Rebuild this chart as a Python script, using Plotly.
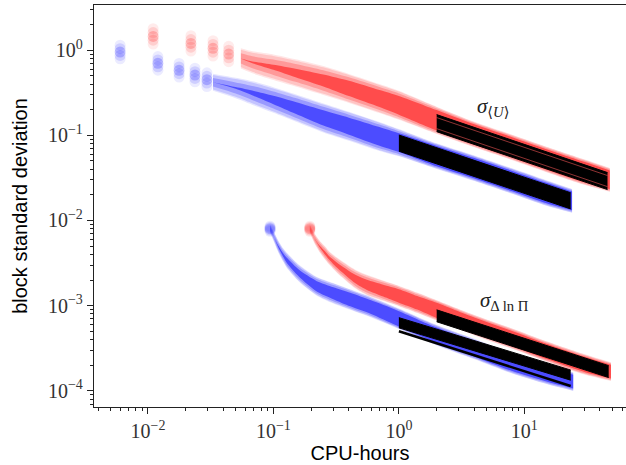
import numpy as np
import plotly.graph_objects as go

# ---------------- data ----------------
# sigma_<U>, blue runs: sparse early columns, then dense cloud
bu_col_x = [0.006, 0.012, 0.0177, 0.0237, 0.0295]
bu_col_y = [0.95, 0.70, 0.58, 0.51, 0.45]
bu_x = [0.033, 0.05, 0.07, 0.1, 0.15, 0.25, 0.4, 0.7, 1.0, 2.0, 4.0, 8.0, 15.0, 24.0]
bu_y = [0.42, 0.36, 0.31, 0.26, 0.21, 0.16, 0.128, 0.097, 0.082, 0.057, 0.041, 0.029, 0.021, 0.017]
bu_halo = [0.10, 0.12, 0.14, 0.15, 0.16, 0.17, 0.17, 0.17, 0.16, 0.15, 0.15, 0.15, 0.15, 0.14]
bu_core = [0.0, 0.01, 0.03, 0.05, 0.07, 0.09, 0.10, 0.11, 0.11, 0.12, 0.12, 0.12, 0.12, 0.11]

# sigma_<U>, red runs
ru_col_x = [0.011, 0.022, 0.033, 0.044]
ru_col_y = [1.45, 1.2, 1.05, 0.9]
ru_x = [0.055, 0.068, 0.1, 0.15, 0.25, 0.4, 0.7, 1.0, 2.0, 4.0, 8.0, 15.0, 30.0, 48.0]
ru_y = [0.80, 0.72, 0.63, 0.54, 0.44, 0.355, 0.27, 0.225, 0.15, 0.102, 0.072, 0.052, 0.037, 0.030]
ru_halo = [0.12, 0.13, 0.15, 0.16, 0.17, 0.17, 0.17, 0.17, 0.16, 0.15, 0.15, 0.15, 0.15, 0.14]
ru_core = [0.0, 0.01, 0.03, 0.05, 0.07, 0.09, 0.10, 0.11, 0.12, 0.12, 0.12, 0.12, 0.12, 0.11]

# sigma_{Delta ln Pi}, blue runs
bp_col_x = [0.094]
bp_col_y = [0.0080]
bp_x = [0.094, 0.102, 0.109, 0.12, 0.128, 0.16, 0.22, 0.3, 0.41, 0.6, 0.96, 2.0, 4.0, 8.0, 15.0, 24.5]
bp_y = [0.0080, 0.0062, 0.0050, 0.0039, 0.0034, 0.0024, 0.0017, 0.0014, 0.00118, 0.00096, 0.00072,
        0.00045, 0.00031, 0.00021, 0.000158, 0.000128]
bp_halo = [0.05, 0.06, 0.07, 0.08, 0.09, 0.10, 0.11, 0.12, 0.12, 0.12, 0.12, 0.12, 0.12, 0.12, 0.12, 0.11]
bp_core = [0.0, 0.0, 0.01, 0.02, 0.03, 0.04, 0.06, 0.07, 0.08, 0.08, 0.09, 0.09, 0.09, 0.09, 0.09, 0.08]

# sigma_{Delta ln Pi}, red runs
rp_col_x = [0.195]
rp_col_y = [0.0080]
rp_x = [0.195, 0.212, 0.235, 0.26, 0.28, 0.32, 0.45, 0.556, 0.75, 1.0, 1.4, 2.0, 4.0, 8.0, 15.0, 30.0, 49.0]
rp_y = [0.0080, 0.0062, 0.0049, 0.0041, 0.0036, 0.0030, 0.00205, 0.00175, 0.0015, 0.0013, 0.00108,
        0.00088, 0.00059, 0.00041, 0.00029, 0.000205, 0.000168]
rp_halo = [0.05, 0.06, 0.07, 0.08, 0.08, 0.09, 0.11, 0.12, 0.12, 0.12, 0.12, 0.12, 0.12, 0.12, 0.12, 0.12, 0.11]
rp_core = [0.0, 0.0, 0.01, 0.02, 0.02, 0.03, 0.05, 0.06, 0.07, 0.08, 0.08, 0.09, 0.09, 0.09, 0.09, 0.09, 0.08]

# power-law fits (end points) and their half widths in decades
fit_bu_x = [1.0, 23.4];  fit_bu_y = [0.081, 0.017];      fit_bu_w = 0.095
fit_ru_x = [2.0, 46.0];  fit_ru_y = [0.139, 0.029];      fit_ru_w = 0.10
fit_bp_x = [1.0, 23.4];  fit_bp_y = [0.00063, 0.000153]; fit_bp_w = 0.06
fit_bp_line_y = [0.000500, 0.000114]
fit_rp_x = [2.0, 47.0];  fit_rp_y = [0.00076, 0.000168]; fit_rp_w = 0.07

x_tickvals = [0.01, 0.1, 1, 10]
x_ticktext = ["10<sup>−2</sup>", "10<sup>−1</sup>", "10<sup>0</sup>", "10<sup>1</sup>"]
y_tickvals = [1, 0.1, 0.01, 0.001, 0.0001]
y_ticktext = ["10<sup>0</sup>", "10<sup>−1</sup>", "10<sup>−2</sup>", "10<sup>−3</sup>", "10<sup>−4</sup>"]

RED = (255, 0, 0)
BLUE = (0, 0, 255)


def rgba(c, a):
    return f"rgba({c[0]},{c[1]},{c[2]},{a})"


fig = go.Figure()


def band(x, y, w, color, alpha):
    y = np.asarray(y, float)
    w = np.asarray(w, float)
    up = y * 10 ** w
    lo = y / 10 ** w
    fig.add_trace(go.Scatter(x=x, y=up, mode="lines", line=dict(width=0, shape="spline", smoothing=0.7),
                             hoverinfo="skip", showlegend=False))
    fig.add_trace(go.Scatter(x=x, y=lo, mode="lines", line=dict(width=0, shape="spline", smoothing=0.7),
                             fill="tonexty", fillcolor=rgba(color, alpha),
                             hoverinfo="skip", showlegend=False))


def columns(cx, cy, color, spread):
    cy = np.asarray(cy, float)
    offs = [(-spread, 0.08), (-spread / 2, 0.12), (spread / 2, 0.12), (spread, 0.08), (0, 0.2)]
    for off, a in offs:
        fig.add_trace(go.Scatter(x=cx, y=cy * 10 ** off, mode="markers",
                                 marker=dict(size=11, color=rgba(color, a), line=dict(width=0)),
                                 hoverinfo="skip", showlegend=False))


def cloud(cx, cy, x, y, halo, core, color, spread):
    columns(cx, cy, color, spread)
    halo = np.asarray(halo, float)
    core = np.asarray(core, float)
    band(x, y, halo, color, 0.10)
    band(x, y, halo * 0.85 + core * 0.15, color, 0.14)
    band(x, y, halo * 0.5 + core * 0.5, color, 0.22)
    band(x, y, core, color, 0.5)


def fit(x, y, w, edge=None):
    y = np.asarray(y, float)
    fig.add_trace(go.Scatter(x=x, y=y * 10 ** w, mode="lines", line=dict(width=1, color="black"),
                             hoverinfo="skip", showlegend=False))
    fig.add_trace(go.Scatter(x=x, y=y / 10 ** w, mode="lines", line=dict(width=1, color="black"),
                             fill="tonexty", fillcolor="black", hoverinfo="skip", showlegend=False))
    if edge is not None:
        for f in (10 ** (w * 0.65), 10 ** (-w * 0.65)):
            fig.add_trace(go.Scatter(x=x, y=y * f, mode="lines", line=dict(width=0.8, color=edge),
                                     hoverinfo="skip", showlegend=False))


# blue first, then red on top
cloud(bu_col_x, bu_col_y, bu_x, bu_y, bu_halo, bu_core, BLUE, 0.08)
cloud(bp_col_x, bp_col_y, bp_x, bp_y, bp_halo, bp_core, BLUE, 0.03)
fit(fit_bu_x, fit_bu_y, fit_bu_w)
fit(fit_bp_x, fit_bp_y, fit_bp_w)
fig.add_trace(go.Scatter(x=fit_bp_x, y=fit_bp_line_y, mode="lines", line=dict(width=2.5, color="black"),
                         hoverinfo="skip", showlegend=False))
cloud(ru_col_x, ru_col_y, ru_x, ru_y, ru_halo, ru_core, RED, 0.09)
cloud(rp_col_x, rp_col_y, rp_x, rp_y, rp_halo, rp_core, RED, 0.03)
fit(fit_ru_x, fit_ru_y, fit_ru_w, edge="rgba(255,90,90,0.7)")
fit(fit_rp_x, fit_rp_y, fit_rp_w)

serif = "Liberation Serif, DejaVu Serif, serif"
sans = "Liberation Sans, Arial, sans-serif"

fig.add_annotation(x=np.log10(5.6), y=np.log10(0.215), xref="x", yref="y",
                   text="<i>σ</i><sub>⟨<i>U</i>⟩</sub>", showarrow=False,
                   font=dict(family=serif, size=21, color="#222"))
fig.add_annotation(x=np.log10(7.0), y=np.log10(0.00112), xref="x", yref="y",
                   text="<i>σ</i><sub>Δ ln Π</sub>", showarrow=False,
                   font=dict(family=serif, size=21, color="#222"))

axis_common = dict(
    type="log", showgrid=False, zeroline=False, showline=True, linecolor="#222", linewidth=1.3,
    ticks="outside", ticklen=6, tickwidth=1, tickcolor="#222",
    tickfont=dict(family=serif, size=20, color="#333"),
    minor=dict(ticks="outside", ticklen=3, tickwidth=1, tickcolor="#222", dtick="D1", showgrid=False),
)

fig.update_layout(
    width=626, height=465,
    margin=dict(l=94, r=0, t=5, b=58),
    plot_bgcolor="white", paper_bgcolor="white",
    xaxis=dict(axis_common, range=[-2.43, 1.81], mirror=True,
               tickmode="array", tickvals=x_tickvals, ticktext=x_ticktext,
               title=dict(text="CPU-hours", font=dict(family=sans, size=20, color="black"), standoff=4)),
    yaxis=dict(axis_common, range=[-4.19, 0.53], mirror=False,
               tickmode="array", tickvals=y_tickvals, ticktext=y_ticktext,
               title=dict(text="block standard deviation", font=dict(family=sans, size=20, color="black"),
                          standoff=14)),
)

fig.write_html("out.html", config={"displayModeBar": False},
               post_script="document.body.style.margin='0px';")
